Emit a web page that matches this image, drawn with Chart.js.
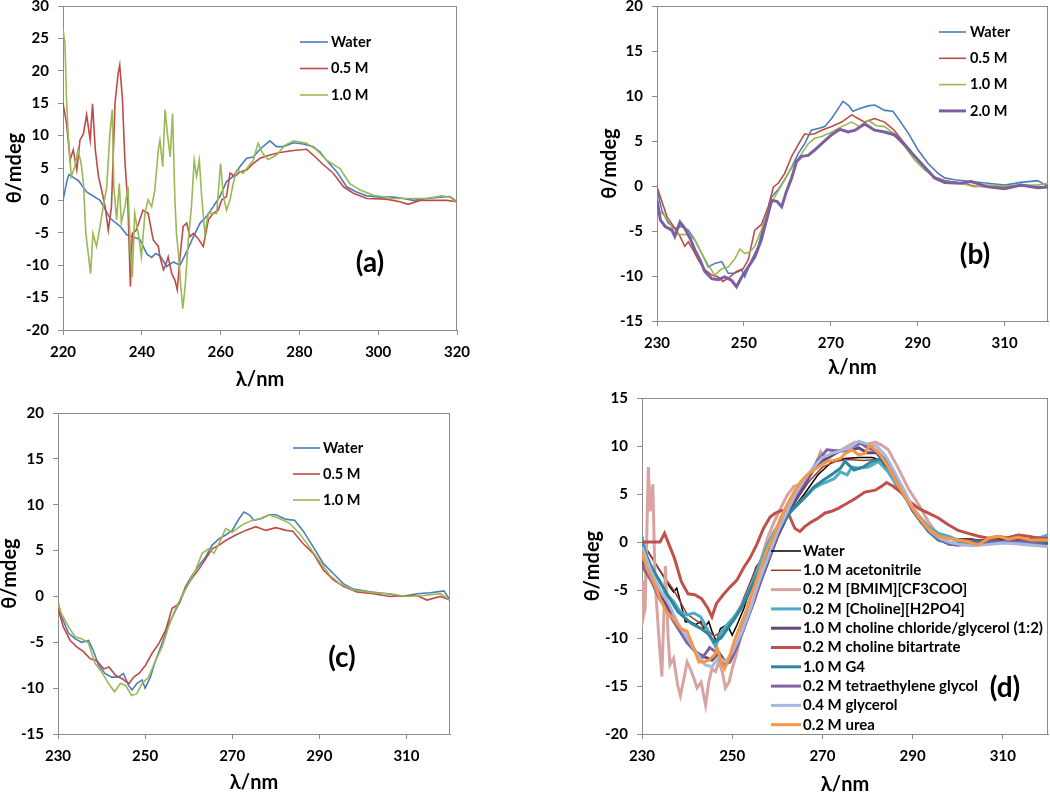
<!DOCTYPE html>
<html>
<head>
<meta charset="utf-8">
<script src="https://cdn.jsdelivr.net/npm/chart.js@4.4.1/dist/chart.umd.min.js"></script>
<style>
  body { margin: 0; background: #fff; }
  #wrap { position: relative; width: 1050px; height: 794px; overflow: hidden; }
  canvas { position: absolute; }
</style>
</head>
<body>
<div id="wrap">
  <canvas id="chartA"></canvas>
  <canvas id="chartB"></canvas>
  <canvas id="chartC"></canvas>
  <canvas id="chartD"></canvas>
</div>
<script>
// ---- tick labels ----
const ticksA = [220, 240, 260, 280, 300, 320];
const ticksBCD = [230, 250, 270, 290, 310];

// ---- panel (a) ----
const aWaterNm = [220,221,221.5,223,224,226,229.4,232,234.5,236.2,239.5,241.3,242.5,243.5,244.7,246.3,248,249.7,251.4,253.1,254.8,256.4,258.1,259.8,261.5,263.2,264.9,266.6,268.3,270,272.5,274.2,275.9,278.5,281,283.5,285.2,286.9,289.5,292,294.5,297.1,300.5,303.8,306.4,308.9,312.3,315.7,318.2,320];
const aWater = [0,3,4,3.4,3,1.3,0,-2.8,-4,-5.3,-6,-8.3,-8.8,-8.2,-8.6,-10.2,-9.5,-10,-7.9,-5.6,-3.5,-2.5,-1,0.6,2.9,3.7,5.2,6.5,6.7,7.9,9.2,8.3,8.3,8.9,8.7,8.3,7.5,6.2,4.4,2.1,1.3,0.7,0.5,0.5,0.3,0,0.3,0.5,0.6,-0.2];

const aHalfNm = [220,220.9,221.8,222.6,223.5,224.3,225.2,226,226.9,227.5,228.2,229,229.8,230.7,231.5,232.3,233.2,234,234.4,235.1,235.7,236.5,237.1,237.6,238.6,240.3,241.6,242.9,244.2,244.6,245.5,245.9,246.7,247.6,248.4,249,249.7,250.5,251.4,252.2,253.1,254.3,255.6,256.9,258.1,259.4,260.3,261.5,262.4,263.6,264.9,266.6,268.3,270,272.5,275,278.5,281.8,283.5,286.1,288.6,291.2,293.7,297.1,302.1,305.5,307.6,310.6,314,317.4,320];
const aHalf = [15,11.9,6.2,7.8,4.7,9.3,10.3,13.2,9.3,14.9,7.8,3.7,1.6,-1,-4.6,-1,15,19.6,20.9,15.5,6.2,-1,-13.3,-5.1,-4.6,-1.5,-2,-6.1,-7.1,-8.7,-10.7,-10.2,-8.7,-11.3,-12.3,-13.8,-8.7,-4,-3.5,-5.6,-5.1,-5.9,-7.1,-3,-2,-1.5,0.1,0.6,4.2,3.7,4.4,4.7,5.7,6.5,7,7.4,7.7,7.9,7,5.5,4.2,2.1,1.1,0.3,0.2,-0.2,-0.6,0,0,0,-0.2];

const aOneNm = [220,220.5,220.9,221.3,222.1,223,223.8,224.6,225.2,225.8,226.4,227,227.6,228.5,229.4,230.2,231.1,231.9,232.5,232.9,233.6,234.3,234.8,235.7,236.5,237.1,237.6,238.2,239.1,239.9,240.8,241.6,242.5,243.3,244.2,244.6,245.3,245.9,246.5,247.2,247.8,248.4,248.8,249.3,249.9,250.4,251,251.8,252.6,253.3,253.9,254.6,255.2,256,256.9,257.7,259,260,260.7,261.5,262.4,263.2,264.1,265.7,267,268.3,269.5,270.4,271,272.1,274.2,276.3,278.5,281.8,284.4,286.9,290.3,292.8,295.4,298.8,303.8,308.9,312.3,316.1,318.2,320];
const aOne = [26.3,24.2,15.5,10.3,3.7,5.2,7.8,5.7,2.6,-5.1,-8.2,-11.3,-5.1,-7.1,-4,-1,2.1,10.3,14,2.1,-3,2.6,-3.5,-1,2.1,-7.7,-11.8,-2,-5.1,-8.7,-2,0.1,-1,1.6,7.8,9.3,5.2,14,10.3,6.7,13.4,0.1,-5.1,-8.2,-13.3,-16.7,-13.3,-6.1,-1,6.2,3.7,6.2,0.6,-5.1,-2,-2,-2,5.7,0.6,-1.5,0.1,2.6,4.7,4.2,5.2,6.2,8.8,7.6,7,6.3,7,8.5,9.2,8.8,7.8,6.2,4.9,2.6,1.6,0.8,0.3,0.3,0.3,0.7,0.5,-0.4];

// ---- panel (b) ----
const bWaterNm = [230,231.1,232.6,234.1,235.7,237.2,238.7,240.3,241.8,243.3,244.9,246.4,247.9,249.5,250.2,251.8,253.3,254.8,256.4,257.9,259.4,261,262.5,264,265.5,267.1,268.6,270.2,271.7,272.8,274,275.1,276.7,278.6,280.1,282.4,284.3,285.8,287.8,290.1,292.4,294.7,296.2,298.5,302.3,306.2,310,313.8,317.6,319.5,320];
const bWater = [-0.4,-2.7,-4.1,-4.7,-4.5,-4.9,-6,-7.5,-9,-8.6,-8.4,-9.7,-9.7,-9.3,-10.1,-8.2,-6.7,-3.8,-1.2,-0.4,0.7,2.1,3.6,4.7,6.2,6.4,6.6,7.5,8.6,9.4,9,8.3,8.6,8.9,9,8.4,8.3,7.3,5.9,4,2.5,1.4,0.9,0.7,0.5,0.3,0.1,0.4,0.6,0.1,0.1];

const bHalfNm = [230,231.1,232.3,233.8,235.3,236.4,237.2,238.3,239.5,241,242.6,244.1,245.2,246.8,248.3,249.8,251,252.5,254,255.6,256.8,257.9,259.4,261,262.5,264,264.8,266.3,267.9,270.2,272.5,274.8,276.3,277.8,280.1,282.4,284.6,287,289.3,291.6,293.9,296.2,300,303.1,306.2,310,313.8,317.6,320];
const bHalf = [-0.1,-1.7,-3.4,-4.5,-5.6,-6.7,-6.2,-7.1,-8.2,-9.3,-9.9,-10.1,-10.6,-10.1,-9.5,-9.2,-8.2,-4.9,-4.3,-2.3,-0.1,0.3,1.4,3.3,4.6,5.8,5.7,5.8,6.2,6.6,7.1,7.9,7.5,7.1,7.5,7.1,6.2,4.7,3.3,2.1,1,0.6,0.3,0,-0.1,-0.1,0,-0.1,-0.1];

const bOneNm = [230,231.1,232.6,234.1,235.7,237.2,238.7,240.3,241.8,243.3,244.9,246.4,247.9,249.1,250.2,251.4,252.5,254,255.6,257.1,258.7,260.2,261.7,263.3,264.8,266.3,267.9,270.2,272.5,274.8,276.7,278.6,280.5,282.4,284.6,287,289.3,291.6,293.9,296.2,300,303.1,306.2,310,313.8,317.6,320];
const bOne = [-2.7,-3,-3.8,-5.3,-5.4,-5.4,-6,-7.5,-8.8,-9.9,-9.2,-9,-8.1,-7,-7.5,-7.3,-6.7,-4.9,-2.7,-1.2,0.1,1.4,2.5,3.6,4.7,5.3,5.5,6,6.6,7.1,6.6,7.3,6.7,6.6,5.8,4.4,2.9,1.8,1,0.5,0.3,-0.1,0.1,0,0.1,0.1,0.3];

const bTwoNm = [230,230.8,231.9,233.4,234.1,235.3,236.4,237.6,238.7,239.9,241,242.6,244.1,245.6,247.2,248.3,249.5,251,252.5,254,255.2,256.4,257.6,258.7,259.8,261,262.1,263.3,264.8,266.3,267.9,270.2,272.1,274,275.6,277.8,280.1,282.4,284.6,287,289.3,291.6,293.9,296.2,300,302.3,306.2,310,313.8,317.6,320];
const bTwo = [-1.6,-3.8,-4.5,-4.9,-5.6,-4,-4.7,-5.8,-7.1,-8.2,-9.5,-10.3,-10.4,-10.1,-10.5,-11.2,-10.1,-9,-7.9,-6,-3.8,-1.6,-1.7,-2.3,-0.6,0.9,2.7,3.3,3.4,4,4.7,5.7,6.3,6,6.2,6.9,6.2,6,5.7,4.6,3.3,2.1,0.9,0.4,0.3,0.5,-0.1,-0.3,0.1,-0.2,-0.1];

// ---- panel (c) ----
const cWaterNm = [230,230.8,232.4,233.9,235.4,237,238.1,239.3,240.8,242.3,243.9,245,246.2,247,248.1,249.3,250,251.2,252.4,253.9,255.4,256.6,258.1,259.3,260.8,262.4,263.9,265.4,267,268.5,270,271.6,272.7,273.9,275,276.6,278.5,280,282.4,284.3,286.2,288.6,290.9,293.2,295.5,297.8,301.6,305.5,309.3,312.4,315.5,318.6,320];
const cWater = [-0.6,-2.2,-4,-4.6,-5,-4.8,-5.9,-7.5,-8.4,-8.8,-8.8,-8.4,-9.7,-10.2,-9.5,-9.1,-10,-8.8,-7,-5.1,-3,-1.9,-0.4,1.1,2.3,3.4,4.3,5.6,6.3,6.7,7.2,8.5,9.2,8.9,8.3,8.5,8.9,8.9,8.4,8.3,7.2,5.4,3.6,2.5,1.4,0.8,0.5,0.3,0,0.3,0.4,0.6,-0.4];

const cHalfNm = [230,231.2,232.8,234.3,235.8,237.4,238.9,240.5,241.7,243.2,244.8,246.3,247.4,248.6,250.1,251.6,253.2,254.7,256.2,257.8,259.3,260.8,262.4,263.9,265.4,267,268.5,270.8,273.1,275.4,277.7,280,282.4,283.9,286.2,288.6,290.9,293.2,295.5,298.6,302.4,306.2,310.1,312.4,314.7,317.8,320];
const cHalf = [-1.3,-3.3,-4.8,-5.5,-6,-6.8,-7,-7.9,-7.7,-8.6,-9,-9.5,-8.8,-8.4,-7.5,-6.2,-5.1,-3.7,-1.3,-0.8,0.9,2,3,4.1,5.2,5.6,6.1,6.7,7.2,7.6,7.2,7.5,7.2,7.1,5.8,4.7,2.9,1.8,1.1,0.5,0.3,0,0.1,0.1,-0.4,0,-0.4];

const cOneNm = [230,230.8,232.4,233.9,235.4,237,238.5,240,241.6,243,244.3,245.5,246.9,248.1,249.3,250.8,252.4,253.9,255.4,257,258.5,260,261.6,263.1,264.6,265.8,267,268.5,270,272.3,274.6,276.9,278.5,280.8,283.1,285.4,287.7,290.1,292.4,294.7,297.8,302.4,306.2,310.1,313.9,317.8,320];
const cOne = [-0.8,-1.9,-3.3,-4.4,-4.6,-5.1,-7.3,-8.2,-9.5,-10.4,-9.5,-9.7,-10.8,-10.6,-9.5,-8.8,-7,-5.5,-3.3,-1.3,0.1,1.4,2.9,4.7,5.2,4.7,5.8,7.4,7,7.8,8.3,8.5,8.9,8.5,8,6.9,5.4,3.8,2.3,1.4,0.7,0.4,0.3,0,0.1,0.3,-0.4];

// ---- panel (d) ----
const dWaterNm = [230,232,234,236.2,237,237.7,238.5,239.6,240.7,241.9,243,243.7,244.8,245.5,246.5,247.4,248.9,250,251.1,252.6,254,255.2,256.7,258.2,258.9,260,263,266,269,272,275,278,281,283,285,287,289,291,293,295,297,300,303,306,309,312,315,318,320];
const dWater = [0,-1.5,-3,-4.7,-5.2,-4.8,-6.2,-8.3,-8.3,-8.6,-8.3,-9,-8.3,-9.3,-10.4,-9,-8.6,-9.7,-8.6,-6.9,-4.8,-2.7,-1.7,-1,0,1.2,3.2,5,7,8.3,8.7,8.8,8.8,8.5,7.2,5.6,4.2,2.8,1.6,0.8,0.4,0.3,0.3,0.1,0.2,0.4,0.3,0.4,0.3];

const dAcnNm = [230,234,237,240,243,246,249,252,255,258,261,264,267,270,273,276,279,282,285,288,291,294,297,300,305,310,313.5,317,320];
const dAcn = [0,-3,-5,-7.5,-8.5,-9.8,-9,-6.5,-3,-0.5,2,4.2,6.3,7.8,8.4,8.6,8.5,8.6,7.3,4.8,2.6,1,0.4,0.3,0.2,0.4,0.8,0.5,0.5];

const dBmimNm = [230,230.2,230.7,231.4,231.8,232.4,232.9,233.6,234.4,235.2,235.8,236.2,237,237.9,238.5,239.3,240,240.7,241.5,242.2,243.1,244.1,244.8,245.5,246.3,247,247.8,248.5,249.3,250,251.1,252.2,253.3,254.8,256.3,257.8,259.3,260.7,262.2,263.7,265.2,266.6,268.1,269.6,270.7,272.6,275,277.2,279.4,281.7,283.1,284.6,286.8,289,291.3,293.5,295.7,297.9,300.9,304.6,308.3,312,315.6,320];
const dBmim = [-4,-8,-6.9,7.8,3.2,6,-4.1,-9,-14,-2.5,-10,-12.8,-12.1,-14.9,-16,-14.2,-12.5,-13.2,-14.2,-15.2,-14.6,-17,-14.6,-13.2,-13.5,-12.5,-13.5,-15.2,-14.6,-13.2,-11.4,-9,-6.9,-4.5,-2,0.4,2.1,3.5,4.9,5.8,6,6.6,7.7,9.4,8.4,9.2,9.8,10.4,10.1,10.4,10.1,9.6,7.7,5.6,3.9,2.1,0.7,0,-0.3,-0.1,0,-0.1,-0.3,-0.3];

const dH2po4Nm = [230,231,232.5,234,235.5,237,238.5,240,241.5,243,244.4,245.5,246.3,247.4,248.9,250.4,251.8,253.3,254.8,256.3,257.8,259.3,260.7,262.2,263.7,265.2,266.6,268.1,269.6,271.1,272.6,274,275.5,276.5,278,280.2,282.4,284.6,286.8,289,291.3,293.5,295.7,297.9,300.1,303.1,306,309,312,315.6,319.7,320];
const dH2po4 = [0.6,-1.7,-3.1,-4.1,-5.5,-6.2,-7.3,-7.6,-7.4,-7.8,-9,-10.2,-10.9,-9.5,-8.6,-7.8,-6.9,-5.5,-3.8,-2,-0.3,1.1,2.1,2.8,3.5,4.2,4.9,5.6,6,6.3,6.6,7.3,7,7.8,7.7,7.8,8.4,7.3,5.6,4.2,2.8,1.6,0.9,0.6,0.2,0,0,-0.1,0,0,0.7,0.5];

const dChclNm = [230,232,234,236,238,240,242,244,245.5,247,248.5,250,252,254,256,258,260,262,264,266,268,270,272,274,276,278,280,282,284,286,288,290,292,294,296,298,300,303,306,310,314,318,320];
const dChcl = [-2,-3.5,-5.5,-7,-8.8,-10,-11.5,-12,-12.3,-11.5,-12.5,-11.8,-9.5,-7,-4.5,-2,0.5,2.5,4.3,6,7.5,8.5,9,9.5,9.5,9.8,9.3,9.3,8.2,6.8,5,3.3,2,1,0.3,-0.2,-0.3,0,0.1,0.1,0.2,0,-0.2];

const dBitNm = [230,234,235,237.2,238.7,240.2,241.7,243.2,244.6,245.5,246.5,248,249.5,251,252.5,253.9,255.4,256.9,258.4,259.5,261,262.4,263.9,265,266.1,267.6,269.1,270.5,272,273.5,275,277.2,279.4,281.7,283.1,284.2,285.7,287.6,289.4,291.3,293.5,295.7,297.9,300.1,302.3,304.6,306.8,309,311.2,313.4,315.6,317.9,320];
const dBit = [0,0,0.9,-1.7,-4.1,-5.4,-5.5,-5.9,-6.9,-7.8,-6.4,-5.5,-4.7,-4,-2.7,-1.7,-0.3,1.4,2.6,3,3.3,3,1.4,1.1,1.6,2.1,2.5,3,3.2,3.5,3.9,4.5,5.2,5.4,5.8,6.2,5.8,5.1,4.2,3.5,3,2.5,1.8,1.2,0.9,0.6,0.4,0.6,0.4,0.7,0.6,0.4,0.4];

const dG4Nm = [230,232,235,238,241,243,244.5,246,247.5,249,250.5,252,254,256,258,259.3,261,263,265,266.6,268,270.4,272,274,275,277,279,281,283,284.6,287,289,291.3,293.5,295.7,298,300,305,310,315,320];
const dG4 = [-0.3,-2.5,-5,-7.3,-8.5,-9,-9.5,-10.4,-10,-9,-8,-6.9,-5,-3,-1,0.7,1.8,3.2,4.2,4.9,5.7,6.5,7,7.7,8.4,7.5,7.8,8.4,8.7,7.8,5.9,4.2,2.5,1.1,0.2,-0.1,-0.1,0,0,0,0.1];

const dTegNm = [230,232,234,236,238,240,242,243.5,245,246.5,248,249.5,251,253,255,257,259,261,263,265,267,269,271,273,275,277,278.5,280,282,284,286,288,290,292,294,296,298,300,303,306,310,314,318,320];
const dTeg = [-2.5,-4,-6,-7.5,-9,-10.5,-11.5,-12,-11,-11.5,-12.8,-12.5,-11,-8.5,-6,-3,-0.5,2,4,5.5,7,8.5,9.6,9.5,9.5,10,10.3,9.8,9.5,8.5,6.8,5,3.3,2,1,0.3,-0.2,-0.3,-0.2,-0.1,0,0,-0.2,-0.4];

const dGlyNm = [230,232,234,236,238,240,242,244,245.5,247,248.5,250,252,254,256,258,260,262,264,266,268,270,272,274,276,278,280,282,284,286,288,290,292,294,296,298,300,303,306,310,314,318,320];
const dGly = [-0.5,-3,-5,-6.5,-8.5,-10,-11.5,-12.8,-13,-12,-12.5,-11.5,-9.5,-7,-4,-1.5,1,3,5,6.5,7.8,8.8,9.2,9.5,9.8,10.5,10.2,10,9,7.3,5.5,3.6,2.2,1.1,0.4,0,-0.2,-0.4,-0.3,-0.1,-0.2,-0.4,-0.5];

const dUreaNm = [230,231,232.5,234,235.5,237,238.5,240,241.5,242.6,243.7,244.8,246,246.7,247.8,248.3,249.3,250.4,251.8,253.3,254.8,256.3,257.8,259.3,260.7,262.2,263.7,265.2,266.6,268.1,269.6,271.1,272.6,274,275,276.5,278,279.4,280.5,281.7,283.1,284.6,286.8,289,291.3,293.5,295.7,297.9,300.1,302.3,304.6,306.8,309,311.2,313.4,316.4,320];
const dUrea = [-1,-2.7,-4.1,-5.9,-7.3,-8,-9,-9.3,-11.1,-12.5,-12.5,-12.3,-11.8,-11.1,-12.8,-13.2,-12.1,-10.4,-8.7,-6.9,-4.8,-2.7,-0.7,0.7,2.5,3.9,5.2,6.3,7,7.5,8,8.4,8.5,8.7,9.2,9.6,9.1,9.2,10.1,9.6,8.9,7.8,5.9,4.2,2.6,1.4,0.6,0.4,0.2,0,-0.3,0.4,0.6,0.3,0.5,0.2,0.2];

const FONT = "Lato, 'Open Sans', sans-serif";

function pts(nm, val) {
  return nm.map((x, i) => ({ x: x, y: val[i] }));
}

function line(label, nm, val, color, width) {
  return { label, data: pts(nm, val), borderColor: color, backgroundColor: color,
           borderWidth: width, pointRadius: 0, tension: 0, fill: false };
}

// draws the plot frame, the in-plot legend and the panel letter
function decoPlugin(p) {
  return {
    id: "deco" + p.tag,
    beforeDatasetsDraw(chart) {
      const a = chart.chartArea, ctx = chart.ctx;
      ctx.save();
      ctx.strokeStyle = "#8c8c8c";
      ctx.lineWidth = 1;
      ctx.strokeRect(Math.round(a.left) + 0.5, Math.round(a.top) + 0.5,
                     Math.round(a.right - a.left) - 1, Math.round(a.bottom - a.top));
      ctx.restore();
    },
    afterDraw(chart) {
      const ctx = chart.ctx, L = p.legend;
      const ox = p.canvas[0], oy = p.canvas[1];
      ctx.save();
      ctx.textBaseline = "middle";
      ctx.font = "bold " + L.size + "px " + FONT;
      chart.data.datasets.forEach((ds, i) => {
        const y = L.y0 + i * L.dy - oy;
        ctx.strokeStyle = ds.borderColor;
        ctx.lineWidth = ds.borderWidth;
        ctx.beginPath();
        ctx.moveTo(L.x1 - ox, y);
        ctx.lineTo(L.x2 - ox, y);
        ctx.stroke();
        ctx.fillStyle = "#000";
        ctx.textAlign = "left";
        ctx.fillText(ds.label, L.tx - ox, y);
      });
      ctx.font = "bold 28px " + FONT;
      ctx.textAlign = "center";
      ctx.fillText("(" + p.tag + ")", p.tagPos[0] - ox, p.tagPos[1] - oy);
      ctx.restore();
    }
  };
}

function makePanel(id, p) {
  const [cl, ct, cw, ch] = p.canvas;
  const [pl, pt, pr, pb] = p.plot;
  const el = document.getElementById(id);
  el.width = cw; el.height = ch;
  el.style.left = cl + "px"; el.style.top = ct + "px";
  el.style.width = cw + "px"; el.style.height = ch + "px";

  const n = p.series.length;
  p.series.forEach((s, i) => { s.order = n - i; });

  const tickFont = { family: FONT, size: 15, weight: "bold" };
  const titleFont = { family: FONT, size: 20, weight: "bold", lineHeight: 1 };
  const axisGrid = { drawOnChartArea: false, drawTicks: true, tickLength: 5, color: "#8c8c8c" };

  new Chart(el, {
    type: "line",
    data: { datasets: p.series },
    options: {
      responsive: false,
      animation: false,
      layout: { padding: { left: 0, top: pt - ct, right: cl + cw - pr, bottom: 0 } },
      plugins: { legend: { display: false }, tooltip: { enabled: false } },
      scales: {
        x: {
          type: "linear", min: p.xMin, max: 320,
          afterBuildTicks: (s) => { s.ticks = p.xTicks.map(v => ({ value: v })); },
          afterFit: (s) => { s.height = ct + ch - pb; s.paddingLeft = 0; s.paddingRight = 0; },
          ticks: { font: tickFont, color: "#000", padding: 8, maxRotation: 0, autoSkip: false },
          grid: axisGrid,
          border: { color: "#8c8c8c" },
          title: { display: true, text: "λ/nm", font: titleFont, color: "#000",
                   padding: { top: 0, bottom: ct + ch - p.xTitleY - 10 } }
        },
        y: {
          type: "linear", min: p.yMin, max: p.yMax,
          afterFit: (s) => { s.width = pl - cl; s.paddingTop = 0; s.paddingBottom = 0; },
          ticks: { font: tickFont, color: "#000", padding: 9, stepSize: 5, autoSkip: false },
          grid: axisGrid,
          border: { color: "#8c8c8c" },
          title: { display: true, text: "θ/mdeg", font: titleFont, color: "#000",
                   padding: { top: p.yTitleX - cl - 10, bottom: 0 } }
        }
      }
    },
    plugins: [decoPlugin(p)]
  });
}

const BLUE = "#4a7ebb", RED = "#be4b48", GREEN = "#98b954", PURPLE = "#7d5fa0";

makePanel("chartA", {
  tag: "a", canvas: [0, 0, 470, 400], plot: [63, 6, 457, 330],
  xMin: 220, xTicks: ticksA, yMin: -20, yMax: 30, yTitleX: 15, xTitleY: 380,
  legend: { x1: 300, x2: 328, tx: 331, y0: 42, dy: 26.5, size: 14.5 },
  tagPos: [370, 263],
  series: [
    line("Water", aWaterNm, aWater, BLUE, 1.6),
    line("0.5 M", aHalfNm, aHalf, RED, 1.6),
    line("1.0 M", aOneNm, aOne, GREEN, 1.6)
  ]
});

makePanel("chartB", {
  tag: "b", canvas: [560, 0, 490, 390], plot: [657, 6, 1048, 321],
  xMin: 230, xTicks: ticksBCD, yMin: -15, yMax: 20, yTitleX: 610, xTitleY: 368,
  legend: { x1: 939, x2: 966, tx: 970, y0: 32, dy: 26.3, size: 14.5 },
  tagPos: [975, 255],
  series: [
    line("Water", bWaterNm, bWater, BLUE, 1.6),
    line("0.5 M", bHalfNm, bHalf, RED, 1.6),
    line("1.0 M", bOneNm, bOne, GREEN, 1.6),
    line("2.0 M", bTwoNm, bTwo, PURPLE, 3)
  ]
});

makePanel("chartC", {
  tag: "c", canvas: [0, 400, 470, 394], plot: [58, 413, 450, 734],
  xMin: 230, xTicks: ticksBCD, yMin: -15, yMax: 20, yTitleX: 10, xTitleY: 783,
  legend: { x1: 293, x2: 320, tx: 323, y0: 448, dy: 26, size: 14.5 },
  tagPos: [342, 658],
  series: [
    line("Water", cWaterNm, cWater, BLUE, 1.6),
    line("0.5 M", cHalfNm, cHalf, RED, 1.6),
    line("1.0 M", cOneNm, cOne, GREEN, 1.6)
  ]
});

makePanel("chartD", {
  tag: "d", canvas: [560, 388, 490, 406], plot: [642, 398, 1048, 734],
  xMin: 230, xTicks: ticksBCD, yMin: -20, yMax: 15, yTitleX: 593, xTitleY: 785,
  legend: { x1: 771, x2: 801, tx: 803, y0: 551, dy: 19.3, size: 15 },
  tagPos: [1005, 688],
  series: [
    line("Water", dWaterNm, dWater, "#000000", 1.5),
    line("1.0 M acetonitrile", dAcnNm, dAcn, "#9e3a36", 1.5),
    line("0.2 M [BMIM][CF3COO]", dBmimNm, dBmim, "#d9a3a1", 3),
    line("0.2 M [Choline][H2PO4]", dH2po4Nm, dH2po4, "#4bacc6", 3),
    line("1.0 M choline chloride/glycerol (1:2)", dChclNm, dChcl, "#604a7b", 3),
    line("0.2 M choline bitartrate", dBitNm, dBit, "#c0504d", 3),
    line("1.0 M G4", dG4Nm, dG4, "#31859c", 3),
    line("0.2 M tetraethylene glycol", dTegNm, dTeg, "#8064a2", 3),
    line("0.4 M glycerol", dGlyNm, dGly, "#a7b9e0", 3),
    line("0.2 M urea", dUreaNm, dUrea, "#f79646", 3)
  ]
});
</script>
</body>
</html>
